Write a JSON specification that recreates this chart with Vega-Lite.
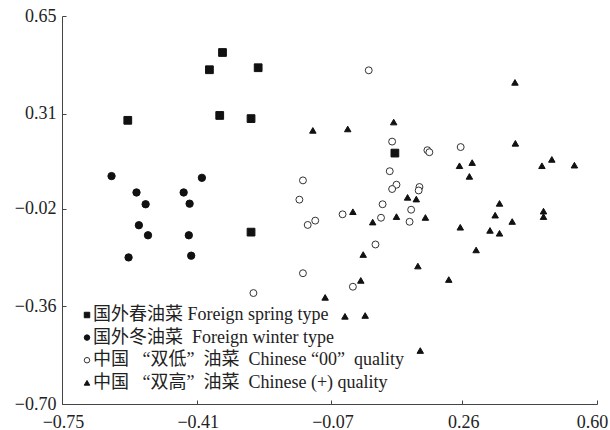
{
  "$schema": "https://vega.github.io/schema/vega-lite/v6.json",
  "width": 535,
  "height": 388,
  "autosize": "none",
  "padding": {"left": 62, "top": 16, "right": 13, "bottom": 26},
  "config": {
    "view": {"stroke": null},
    "font": "Liberation Serif, Noto Sans CJK SC",
    "axis": {"grid": false, "domainColor": "#444", "tickColor": "#444", "labelColor": "#222", "labelFont": "Liberation Serif", "labelFontSize": 18, "title": null},
    "legend": {"title": null, "orient": "none", "legendX": 16, "legendY": 290, "padding": 0, "labelFontSize": 18, "labelFont": "Liberation Serif, Noto Sans CJK SC", "labelColor": "#222", "labelOffset": -3, "symbolSize": 30, "rowPadding": 4.6, "symbolStrokeWidth": 1, "labelLimit": 400}
  },
  "data": {"values": [
    {"g": "A", "x": -0.584, "y": 0.287},
    {"g": "A", "x": -0.378, "y": 0.463},
    {"g": "A", "x": -0.345, "y": 0.523},
    {"g": "A", "x": -0.255, "y": 0.470},
    {"g": "A", "x": -0.352, "y": 0.304},
    {"g": "A", "x": -0.273, "y": 0.293},
    {"g": "A", "x": -0.273, "y": -0.102},
    {"g": "A", "x": 0.090, "y": 0.173},
    {"g": "B", "x": -0.625, "y": 0.093},
    {"g": "B", "x": -0.562, "y": 0.036},
    {"g": "B", "x": -0.539, "y": -0.005},
    {"g": "B", "x": -0.443, "y": 0.036},
    {"g": "B", "x": -0.428, "y": -0.003},
    {"g": "B", "x": -0.397, "y": 0.087},
    {"g": "B", "x": -0.556, "y": -0.078},
    {"g": "B", "x": -0.533, "y": -0.113},
    {"g": "B", "x": -0.430, "y": -0.113},
    {"g": "B", "x": -0.582, "y": -0.190},
    {"g": "B", "x": -0.424, "y": -0.184},
    {"g": "C", "x": 0.024, "y": 0.461},
    {"g": "C", "x": 0.083, "y": 0.213},
    {"g": "C", "x": 0.172, "y": 0.183},
    {"g": "C", "x": 0.177, "y": 0.176},
    {"g": "C", "x": 0.256, "y": 0.194},
    {"g": "C", "x": 0.077, "y": 0.110},
    {"g": "C", "x": -0.142, "y": 0.078},
    {"g": "C", "x": -0.151, "y": 0.011},
    {"g": "C", "x": 0.094, "y": 0.063},
    {"g": "C", "x": 0.083, "y": 0.048},
    {"g": "C", "x": 0.152, "y": 0.055},
    {"g": "C", "x": 0.150, "y": 0.043},
    {"g": "C", "x": 0.059, "y": -0.005},
    {"g": "C", "x": 0.131, "y": -0.024},
    {"g": "C", "x": -0.042, "y": -0.040},
    {"g": "C", "x": 0.055, "y": -0.052},
    {"g": "C", "x": 0.127, "y": -0.066},
    {"g": "C", "x": -0.111, "y": -0.062},
    {"g": "C", "x": -0.130, "y": -0.077},
    {"g": "C", "x": 0.041, "y": -0.145},
    {"g": "C", "x": -0.142, "y": -0.245},
    {"g": "C", "x": -0.016, "y": -0.292},
    {"g": "C", "x": -0.267, "y": -0.314},
    {"g": "D", "x": -0.117, "y": 0.252},
    {"g": "D", "x": -0.029, "y": 0.257},
    {"g": "D", "x": 0.087, "y": 0.281},
    {"g": "D", "x": 0.393, "y": 0.419},
    {"g": "D", "x": 0.394, "y": 0.207},
    {"g": "D", "x": 0.253, "y": 0.129},
    {"g": "D", "x": 0.285, "y": 0.140},
    {"g": "D", "x": 0.278, "y": 0.092},
    {"g": "D", "x": 0.461, "y": 0.129},
    {"g": "D", "x": 0.486, "y": 0.151},
    {"g": "D", "x": 0.543, "y": 0.131},
    {"g": "D", "x": 0.122, "y": 0.019},
    {"g": "D", "x": 0.144, "y": 0.013},
    {"g": "D", "x": 0.354, "y": -0.002},
    {"g": "D", "x": 0.343, "y": -0.043},
    {"g": "D", "x": 0.386, "y": -0.065},
    {"g": "D", "x": 0.330, "y": -0.096},
    {"g": "D", "x": 0.354, "y": -0.106},
    {"g": "D", "x": 0.465, "y": -0.029},
    {"g": "D", "x": 0.465, "y": -0.048},
    {"g": "D", "x": -0.016, "y": -0.031},
    {"g": "D", "x": 0.034, "y": -0.067},
    {"g": "D", "x": 0.094, "y": -0.048},
    {"g": "D", "x": 0.167, "y": -0.051},
    {"g": "D", "x": 0.255, "y": -0.085},
    {"g": "D", "x": 0.295, "y": -0.164},
    {"g": "D", "x": 0.010, "y": -0.180},
    {"g": "D", "x": 0.148, "y": -0.220},
    {"g": "D", "x": 0.226, "y": -0.267},
    {"g": "D", "x": 0.004, "y": -0.270},
    {"g": "D", "x": -0.086, "y": -0.329},
    {"g": "D", "x": -0.036, "y": -0.395},
    {"g": "D", "x": 0.015, "y": -0.392},
    {"g": "D", "x": 0.154, "y": -0.514}
  ]},
  "transform": [
    {"lookup": "g", "from": {"data": {"values": [
      {"g": "A", "label": "国外春油菜 Foreign spring type"},
      {"g": "B", "label": "国外冬油菜\u00a0\u00a0Foreign winter type"},
      {"g": "C", "label": "中国\u00a0\u00a0\u00a0“双低”\u00a0\u00a0油菜\u00a0\u00a0Chinese\u00a0“00”\u00a0\u00a0quality"},
      {"g": "D", "label": "中国\u00a0\u00a0\u00a0“双高”\u00a0\u00a0油菜\u00a0\u00a0Chinese (+) quality"}
    ]}, "key": "g", "fields": ["label"]}}
  ],
  "mark": {"type": "point", "filled": true, "strokeWidth": 1, "opacity": 1},
  "encoding": {
    "x": {"field": "x", "type": "quantitative", "scale": {"domain": [-0.75, 0.6], "nice": false, "zero": false},
      "axis": {"values": [-0.75, -0.41, -0.07, 0.26, 0.6], "format": ".2f", "tickSize": -4, "labelPadding": 13, "labelFlush": false, "labelOffset": {"expr": "datum.value > 0.5 ? -5 : 1"}}},
    "y": {"field": "y", "type": "quantitative", "scale": {"domain": [-0.7, 0.65], "nice": false, "zero": false},
      "axis": {"values": [-0.7, -0.36, -0.02, 0.31, 0.65], "format": ".2f", "tickSize": -4, "labelPadding": 10, "labelFlush": false}},
    "shape": {"field": "label", "type": "nominal", "sort": null,
      "scale": {"range": ["square", "circle", "circle", "triangle-up"]}},
    "fill": {"field": "label", "type": "nominal", "sort": null,
      "scale": {"range": ["#111", "#111", "#fff", "#111"]}},
    "stroke": {"field": "label", "type": "nominal", "sort": null,
      "scale": {"range": ["#111", "#111", "#333", "#111"]}},
    "size": {"field": "g", "type": "nominal", "scale": {"domain": ["A", "B", "C", "D"], "range": [60, 42, 36, 70]}, "legend": null}
  }
}
